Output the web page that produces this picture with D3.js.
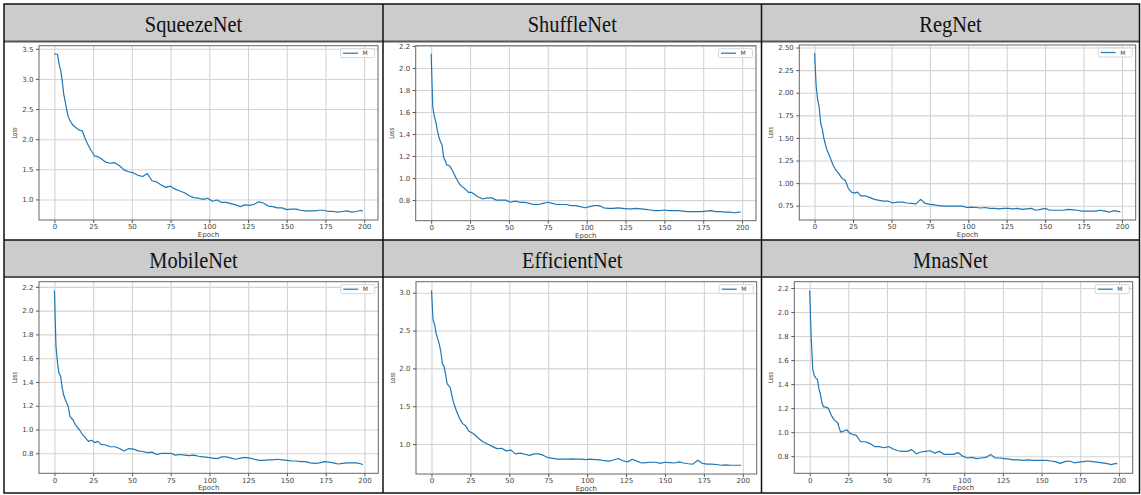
<!DOCTYPE html>
<html>
<head>
<meta charset="utf-8">
<script src="https://cdn.jsdelivr.net/npm/d3@7"></script>
<style>
  html, body { margin: 0; padding: 0; background: #fff; }
  svg { display: block; }
</style>
</head>
<body>
<div id="loss-grid"></div>
<script>
(function(d3) {
  'use strict';

  var epochs = [0, 1, 2, 3, 4, 5, 6, 7, 8, 9, 10, 12, 14, 16, 18, 20, 22, 24, 26, 28, 30,
    33, 36, 39, 42, 45, 48, 51, 54, 57, 60, 63, 66, 69, 72, 75, 78, 81, 84, 87, 90,
    93, 96, 99, 102, 105, 108, 111, 114, 117, 120, 123, 126, 129, 132, 135, 138, 141, 144, 147, 150,
    153, 156, 159, 162, 165, 168, 171, 174, 177, 180, 183, 186, 189, 192, 195, 198, 199];

  var squeezeNetLoss = [3.42, 3.41, 3.41, 3.25, 3.15, 2.98, 2.75, 2.62, 2.48, 2.37, 2.31,
    2.23, 2.19, 2.15, 2.14, 2.00, 1.89, 1.80, 1.72, 1.71, 1.68,
    1.62, 1.60, 1.61, 1.56, 1.49, 1.46, 1.44, 1.40, 1.38, 1.43,
    1.31, 1.29, 1.24, 1.20, 1.22, 1.17, 1.14, 1.11, 1.06, 1.03,
    1.02, 1.00, 1.02, 0.97, 0.99, 0.95, 0.95, 0.93, 0.91, 0.88,
    0.91, 0.90, 0.92, 0.96, 0.94, 0.89, 0.88, 0.86, 0.86, 0.83,
    0.84, 0.84, 0.82, 0.81, 0.81, 0.81, 0.82, 0.82, 0.80, 0.80,
    0.79, 0.80, 0.81, 0.79, 0.80, 0.82, 0.80];

  var shuffleNetLoss = [2.13, 1.65, 1.56, 1.51, 1.43, 1.37, 1.33, 1.30, 1.19, 1.16, 1.12,
    1.11, 1.06, 1.00, 0.95, 0.92, 0.90, 0.87, 0.87, 0.85, 0.83,
    0.81, 0.82, 0.82, 0.80, 0.80, 0.80, 0.78, 0.79, 0.78, 0.78,
    0.77, 0.76, 0.76, 0.77, 0.78, 0.77, 0.76, 0.76, 0.76, 0.75,
    0.75, 0.74, 0.73, 0.74, 0.75, 0.75, 0.73, 0.725, 0.725, 0.73,
    0.725, 0.72, 0.72, 0.725, 0.72, 0.715, 0.71, 0.705, 0.705, 0.71,
    0.705, 0.705, 0.705, 0.70, 0.695, 0.695, 0.695, 0.695, 0.70, 0.705,
    0.695, 0.695, 0.69, 0.69, 0.685, 0.69, 0.69];

  var regNetLoss = [2.44, 2.08, 1.92, 1.84, 1.66, 1.60, 1.50, 1.43, 1.37, 1.33, 1.29,
    1.20, 1.14, 1.10, 1.05, 1.03, 0.94, 0.90, 0.89, 0.90, 0.86,
    0.86, 0.84, 0.82, 0.81, 0.80, 0.80, 0.78, 0.79, 0.79, 0.78,
    0.775, 0.77, 0.82, 0.775, 0.765, 0.76, 0.75, 0.745, 0.745, 0.745,
    0.745, 0.745, 0.73, 0.735, 0.73, 0.725, 0.73, 0.72, 0.72, 0.715,
    0.72, 0.72, 0.715, 0.72, 0.71, 0.715, 0.72, 0.70, 0.71, 0.72,
    0.70, 0.70, 0.70, 0.70, 0.71, 0.705, 0.70, 0.69, 0.69, 0.69,
    0.69, 0.70, 0.69, 0.68, 0.695, 0.685, 0.685];

  var mobileNetLoss = [2.17, 1.70, 1.56, 1.47, 1.45, 1.35, 1.29, 1.25, 1.22, 1.19, 1.11,
    1.08, 1.03, 1.00, 0.96, 0.93, 0.90, 0.91, 0.89, 0.90, 0.875,
    0.87, 0.855, 0.855, 0.84, 0.82, 0.84, 0.835, 0.82, 0.815, 0.805,
    0.81, 0.79, 0.80, 0.80, 0.80, 0.785, 0.79, 0.785, 0.78, 0.785,
    0.775, 0.77, 0.765, 0.76, 0.755, 0.77, 0.77, 0.76, 0.75, 0.76,
    0.765, 0.76, 0.75, 0.74, 0.74, 0.745, 0.745, 0.75, 0.745, 0.74,
    0.735, 0.735, 0.73, 0.73, 0.72, 0.715, 0.72, 0.73, 0.725, 0.72,
    0.71, 0.715, 0.72, 0.72, 0.72, 0.71, 0.705];

  var efficientNetLoss = [3.03, 2.64, 2.58, 2.46, 2.39, 2.32, 2.22, 2.06, 2.03, 1.93, 1.80,
    1.75, 1.56, 1.44, 1.34, 1.27, 1.24, 1.17, 1.15, 1.12, 1.08,
    1.03, 1.00, 0.97, 0.94, 0.945, 0.91, 0.92, 0.87, 0.88, 0.865,
    0.85, 0.87, 0.87, 0.85, 0.82, 0.81, 0.80, 0.80, 0.80, 0.805,
    0.80, 0.80, 0.795, 0.80, 0.795, 0.79, 0.78, 0.775, 0.79, 0.81,
    0.78, 0.765, 0.80, 0.775, 0.75, 0.755, 0.76, 0.76, 0.745, 0.76,
    0.755, 0.75, 0.765, 0.75, 0.74, 0.735, 0.785, 0.745, 0.735, 0.735,
    0.73, 0.72, 0.725, 0.72, 0.72, 0.72, 0.72];

  var mnasNetLoss = [2.18, 1.78, 1.52, 1.47, 1.45, 1.44, 1.36, 1.31, 1.24, 1.21, 1.21,
    1.20, 1.14, 1.10, 1.08, 1.00, 1.01, 1.02, 0.99, 0.98, 0.975,
    0.92, 0.92, 0.905, 0.88, 0.88, 0.87, 0.88, 0.86, 0.845, 0.84,
    0.84, 0.855, 0.82, 0.835, 0.84, 0.845, 0.825, 0.84, 0.815, 0.815,
    0.815, 0.83, 0.80, 0.785, 0.79, 0.78, 0.785, 0.79, 0.815, 0.785,
    0.785, 0.78, 0.775, 0.77, 0.77, 0.765, 0.77, 0.765, 0.765, 0.765,
    0.765, 0.76, 0.755, 0.74, 0.755, 0.76, 0.745, 0.75, 0.755, 0.76,
    0.755, 0.75, 0.745, 0.74, 0.73, 0.74, 0.735];

  var modelNames = ['SqueezeNet', 'ShuffleNet', 'RegNet', 'MobileNet', 'EfficientNet', 'MnasNet'];
  var seriesName = 'M';
  var xTicks = [0, 25, 50, 75, 100, 125, 150, 175, 200];
  var yTicksSqueeze = [1.0, 1.5, 2.0, 2.5, 3.0, 3.5];
  var yTicksPointTwo = [0.8, 1.0, 1.2, 1.4, 1.6, 1.8, 2.0, 2.2];
  var yTicksRegNet = [0.75, 1.00, 1.25, 1.50, 1.75, 2.00, 2.25, 2.50];
  var yTicksEfficient = [1.0, 1.5, 2.0, 2.5, 3.0];

  var lossSeries = [squeezeNetLoss, shuffleNetLoss, regNetLoss, mobileNetLoss, efficientNetLoss, mnasNetLoss];
  var yTickSets = [yTicksSqueeze, yTicksPointTwo, yTicksRegNet, yTicksPointTwo, yTicksEfficient, yTicksPointTwo];

  // table layout (page pixels)
  var width = 1141, height = 495;
  var colEdges = [4, 383, 761.5, 1139.5];
  var rows = [
    { headTop: 4, headBottom: 41.5, bottom: 240 },
    { headTop: 240, headBottom: 277, bottom: 493 }
  ];
  // axes boxes inside each cell
  var boxes = [
    { left: 39, right: 378, top: 45.7, bottom: 220, labelGap: 25 },
    { left: 415.7, right: 756, top: 45.7, bottom: 220.7, labelGap: 24 },
    { left: 799.3, right: 1135.7, top: 45, bottom: 220, labelGap: 29 },
    { left: 39, right: 378.3, top: 281.7, bottom: 473.3, labelGap: 25 },
    { left: 416, right: 756.7, top: 281.7, bottom: 474, labelGap: 24 },
    { left: 794.3, right: 1132.7, top: 281.7, bottom: 473.3, labelGap: 24 }
  ];

  var lineColor = '#1f77b4';
  var gridColor = '#d3d3d3';
  var tickFont = '"DejaVu Sans", sans-serif';

  var svg = d3.select('#loss-grid')
    .append('svg')
    .attr('width', width)
    .attr('height', height);

  // header cells
  rows.forEach(function(r) {
    svg.append('rect')
      .attr('x', colEdges[0]).attr('y', r.headTop)
      .attr('width', colEdges[3] - colEdges[0])
      .attr('height', r.headBottom - r.headTop)
      .attr('fill', '#cccccc');
  });

  modelNames.forEach(function(name, i) {
    var col = i % 3, row = Math.floor(i / 3);
    var r = rows[row];
    var box = boxes[i];
    var boxW = box.right - box.left, boxH = box.bottom - box.top;
    var cx = (colEdges[col] + colEdges[col + 1]) / 2;

    svg.append('text')
      .attr('transform', 'translate(' + cx + ',' + (r.headTop + 27.5) + ') scale(0.85,1)')
      .attr('text-anchor', 'middle')
      .attr('font-family', '"Liberation Serif", "Times New Roman", serif')
      .attr('font-size', 24)
      .attr('fill', '#111')
      .text(name);

    var loss = lossSeries[i];
    var lo = d3.min(loss), hi = d3.max(loss);
    var pad = (hi - lo) * 0.05;
    var xPad = (d3.max(epochs) - d3.min(epochs)) * 0.05;

    var x = d3.scaleLinear()
      .domain([d3.min(epochs) - xPad, d3.max(epochs) + xPad])
      .range([0, boxW]);
    var y = d3.scaleLinear()
      .domain([lo - pad, hi + pad])
      .range([boxH, 0]);

    var g = svg.append('g').attr('transform', 'translate(' + box.left + ',' + box.top + ')');
    var yFmt = i === 2 ? d3.format('.2f') : d3.format('.1f');

    // grid
    g.append('g')
      .attr('transform', 'translate(0,' + boxH + ')')
      .call(d3.axisBottom(x).tickValues(xTicks).tickSize(-boxH).tickFormat(''))
      .call(function(a) {
        a.select('.domain').remove();
        a.selectAll('line').attr('stroke', gridColor).attr('stroke-width', 1.1);
      });
    g.append('g')
      .call(d3.axisLeft(y).tickValues(yTickSets[i]).tickSize(-boxW).tickFormat(''))
      .call(function(a) {
        a.select('.domain').remove();
        a.selectAll('line').attr('stroke', gridColor).attr('stroke-width', 1.1);
      });

    // loss curve
    var line = d3.line()
      .x(function(d, k) { return x(epochs[k]); })
      .y(function(d) { return y(d); });
    g.append('path')
      .datum(loss)
      .attr('d', line)
      .attr('fill', 'none')
      .attr('stroke', lineColor)
      .attr('stroke-width', 1.2)
      .attr('stroke-linejoin', 'round');

    // ticks and labels
    g.append('g')
      .attr('transform', 'translate(0,' + boxH + ')')
      .call(d3.axisBottom(x).tickValues(xTicks).tickSize(3).tickPadding(1.5).tickFormat(d3.format('d')))
      .call(function(a) {
        a.select('.domain').remove();
        a.selectAll('line').attr('stroke', '#555');
        a.selectAll('text').attr('font-family', tickFont).attr('font-size', 7).attr('fill', '#444');
      });
    g.append('g')
      .call(d3.axisLeft(y).tickValues(yTickSets[i]).tickSize(3).tickPadding(2.5).tickFormat(yFmt))
      .call(function(a) {
        a.select('.domain').remove();
        a.selectAll('line').attr('stroke', '#555');
        a.selectAll('text').attr('font-family', tickFont).attr('font-size', 7).attr('fill', '#444');
      });

    // spines
    g.append('rect')
      .attr('width', boxW).attr('height', boxH)
      .attr('fill', 'none')
      .attr('stroke', '#666')
      .attr('stroke-width', 1);

    g.append('text')
      .attr('x', boxW / 2).attr('y', boxH + 17)
      .attr('text-anchor', 'middle')
      .attr('font-family', tickFont).attr('font-size', 7).attr('fill', '#444')
      .text('Epoch');

    g.append('text')
      .attr('transform', 'translate(' + (-box.labelGap + 2.5) + ',' + (boxH / 2) + ') rotate(-90)')
      .attr('text-anchor', 'middle')
      .attr('font-family', tickFont).attr('font-size', 7).attr('fill', '#444')
      .attr('textLength', 11).attr('lengthAdjust', 'spacingAndGlyphs')
      .text('Loss');

    // legend
    var lg = g.append('g').attr('transform', 'translate(' + (boxW - 37.5) + ',3)');
    lg.append('rect')
      .attr('width', 34).attr('height', 9).attr('rx', 1.5)
      .attr('fill', '#fff').attr('fill-opacity', 0.85)
      .attr('stroke', '#ccc').attr('stroke-width', 0.8);
    lg.append('line')
      .attr('x1', 2.5).attr('x2', 17.5).attr('y1', 4.5).attr('y2', 4.5)
      .attr('stroke', lineColor).attr('stroke-width', 1.2);
    lg.append('text')
      .attr('x', 22).attr('y', 6.6)
      .attr('font-family', tickFont).attr('font-size', 6).attr('fill', '#444')
      .text(seriesName);
  });

  // table rules
  rows.forEach(function(r) {
    svg.append('line')
      .attr('x1', colEdges[0]).attr('x2', colEdges[3])
      .attr('y1', r.headBottom).attr('y2', r.headBottom)
      .attr('stroke', '#555').attr('stroke-width', 2);
  });
  svg.append('line')
    .attr('x1', colEdges[0]).attr('x2', colEdges[3])
    .attr('y1', rows[1].headTop).attr('y2', rows[1].headTop)
    .attr('stroke', '#111').attr('stroke-width', 1.5);
  [1, 2].forEach(function(c) {
    svg.append('line')
      .attr('x1', colEdges[c]).attr('x2', colEdges[c])
      .attr('y1', rows[0].headTop).attr('y2', rows[1].bottom)
      .attr('stroke', '#111').attr('stroke-width', 1.5);
  });
  svg.append('rect')
    .attr('x', colEdges[0]).attr('y', rows[0].headTop)
    .attr('width', colEdges[3] - colEdges[0])
    .attr('height', rows[1].bottom - rows[0].headTop)
    .attr('fill', 'none')
    .attr('stroke', '#111').attr('stroke-width', 1.5);
}(d3));
</script>
</body>
</html>
